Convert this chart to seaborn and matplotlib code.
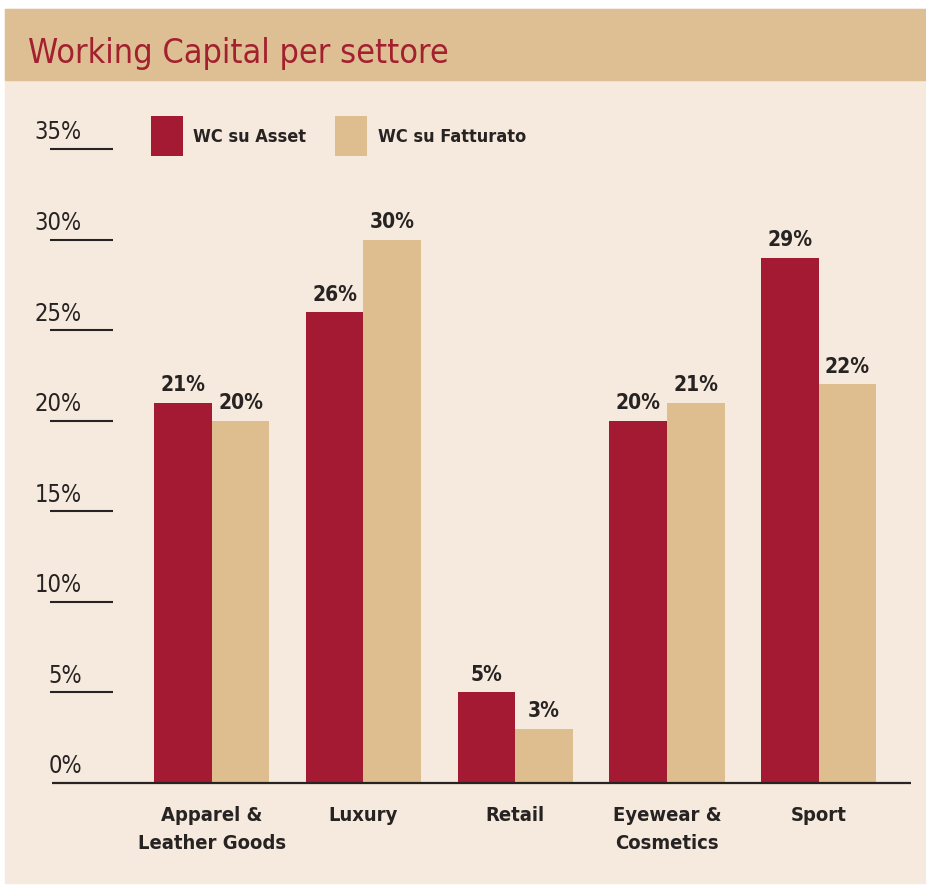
import matplotlib
matplotlib.use("Agg")
import matplotlib.pyplot as plt
from matplotlib.patches import Rectangle
import pandas as pd
import seaborn as sns

# --- data -------------------------------------------------------------
categories = ["Apparel &\nLeather Goods", "Luxury", "Retail", "Eyewear &\nCosmetics", "Sport"]
series_names = ["WC su Asset", "WC su Fatturato"]
wc_asset = [21, 26, 5, 20, 29]
wc_fatturato = [20, 30, 3, 21, 22]
y_ticks = [0, 5, 10, 15, 20, 25, 30, 35]
y_tick_labels = ["0%", "5%", "10%", "15%", "20%", "25%", "30%", "35%"]
title = "Working Capital per settore"

# --- style ------------------------------------------------------------
RED = "#A51A33"
TAN = "#DEBE8F"
BAND = "#DEBF93"
PANEL = "#F6E9DD"
INK = "#262322"
TITLE_RED = "#A3202F"
FONT = ["Liberation Sans Narrow", "DejaVu Sans Condensed", "DejaVu Sans"]
plt.rcParams["font.family"] = FONT
plt.rcParams["font.stretch"] = "condensed"

df = pd.DataFrame({
    "settore": categories * 2,
    "serie": [series_names[0]] * len(categories) + [series_names[1]] * len(categories),
    "valore": wc_asset + wc_fatturato,
})

W, H = 926, 887
fig = plt.figure(figsize=(W / 100, H / 100), dpi=100, facecolor="white")

# background panel and title band
fig.patches.append(Rectangle((5 / W, 1 - 884 / H), 1, (884 - 10) / H,
                             transform=fig.transFigure, color=PANEL, zorder=-2))
fig.patches.append(Rectangle((5 / W, 1 - 81 / H), 1, (81 - 10) / H,
                             transform=fig.transFigure, color=BAND, zorder=-1))
fig.text(28 / W, 1 - 63 / H, title, color=TITLE_RED, fontsize=24.5,
         ha="left", va="baseline")

ax = fig.add_axes([40 / W, 1 - 784 / H, 886 / W, (784 - 100) / H])
ax.set_facecolor("none")
ax.set_zorder(2)

sns.barplot(data=df, x="settore", y="valore", hue="serie", order=categories,
            hue_order=series_names, palette=[RED, TAN], width=0.76,
            saturation=1, ax=ax, legend=True)

ax.set_xlim(-1.1325, 4.708)
ax.set_ylim(0, 35 * 684 / 634)
for s in ax.spines.values():
    s.set_visible(False)
ax.set_xlabel("")
ax.set_ylabel("")
ax.set_yticks([])
ax.tick_params(axis="x", length=0, pad=16)
for lbl in ax.get_xticklabels():
    lbl.set_fontsize(14.5)
    lbl.set_fontweight("bold")
    lbl.set_color(INK)
    lbl.set_linespacing(1.6)

# value labels on bars
for cont in ax.containers:
    ax.bar_label(cont, labels=[f"{v:.0f}%" for v in cont.datavalues],
                 padding=6, fontsize=15, fontweight="bold", color=INK)

# baseline and underlined tick labels
ytr = ax.get_yaxis_transform()
ax.plot([0.0135, 0.9831], [0, 0], transform=ytr, color=INK, lw=1.6,
        clip_on=False, solid_capstyle="butt")
for v, t in zip(y_ticks, y_tick_labels):
    if v > 0:
        ax.plot([0.0113, 0.0824], [v, v], transform=ytr, color=INK, lw=1.5,
                clip_on=False, solid_capstyle="butt")
    ax.annotate(t, xy=(0.0474, v), xycoords=ytr, xytext=(0, 4),
                textcoords="offset points", ha="right", va="bottom",
                fontsize=17, color=INK)

# legend
handles, labels = ax.get_legend_handles_labels()
ax.legend(handles, labels, ncol=2, loc="upper left",
          bbox_to_anchor=(151 / W, 1 - 117 / H), bbox_transform=fig.transFigure,
          frameon=False, borderpad=0, borderaxespad=0, handlelength=1.75,
          handleheight=3.0, handletextpad=0.6, columnspacing=1.6,
          prop={"family": FONT, "size": 13, "weight": "bold", "stretch": "condensed"})
for txt in ax.get_legend().get_texts():
    txt.set_color(INK)

fig.savefig("out.png", dpi=100, facecolor="white")
